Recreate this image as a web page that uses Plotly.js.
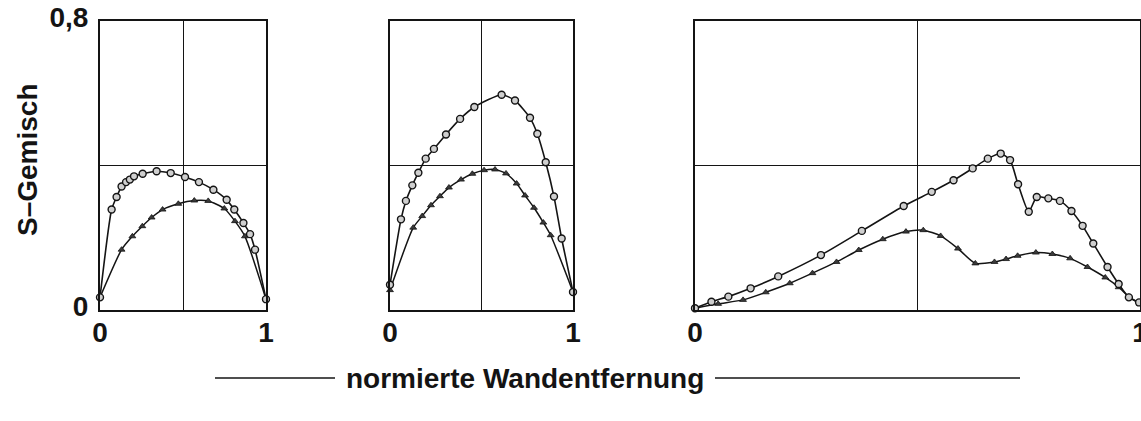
<!DOCTYPE html>
<html>
<head>
<meta charset="utf-8">
<script src="https://cdn.plot.ly/plotly-3.0.1.min.js"></script>
<style>
  html, body { margin: 0; padding: 0; background: #fff; }
  #chart { width: 1141px; height: 421px; }
</style>
</head>
<body>
<div id="chart"></div>
<script>
// Left panel: circles and triangles
const p1CircleX = [0, 0.07, 0.10, 0.13, 0.157, 0.18, 0.205, 0.257, 0.341, 0.426, 0.512, 0.596, 0.683, 0.763, 0.809, 0.864, 0.904, 0.934, 1.0];
const p1CircleY = [0.035, 0.278, 0.313, 0.342, 0.354, 0.361, 0.370, 0.377, 0.384, 0.379, 0.368, 0.354, 0.333, 0.305, 0.278, 0.241, 0.210, 0.167, 0.03];
const p1TriX = [0, 0.13, 0.195, 0.255, 0.311, 0.377, 0.472, 0.568, 0.652, 0.749, 0.813, 0.873, 1.0];
const p1TriY = [0.035, 0.167, 0.204, 0.232, 0.256, 0.278, 0.294, 0.303, 0.302, 0.281, 0.246, 0.204, 0.03];

// Middle panel
const p2CircleX = [0, 0.06, 0.087, 0.122, 0.155, 0.195, 0.240, 0.306, 0.383, 0.461, 0.610, 0.683, 0.765, 0.805, 0.851, 0.896, 0.938, 1.0];
const p2CircleY = [0.07, 0.251, 0.302, 0.345, 0.380, 0.419, 0.446, 0.486, 0.529, 0.562, 0.596, 0.580, 0.532, 0.488, 0.409, 0.314, 0.198, 0.05];
const p2TriX = [0, 0.127, 0.176, 0.224, 0.273, 0.322, 0.388, 0.450, 0.514, 0.574, 0.634, 0.692, 0.738, 0.787, 0.838, 0.878, 1.0];
const p2TriY = [0.055, 0.228, 0.260, 0.290, 0.315, 0.339, 0.361, 0.377, 0.387, 0.389, 0.378, 0.350, 0.317, 0.283, 0.242, 0.207, 0.05];

// Right panel
const p3CircleX = [0, 0.037, 0.075, 0.125, 0.187, 0.283, 0.375, 0.469, 0.532, 0.581, 0.624, 0.658, 0.687, 0.708, 0.726, 0.750, 0.768, 0.794, 0.820, 0.846, 0.871, 0.895, 0.927, 0.952, 0.975, 0.998];
const p3CircleY = [0.005, 0.023, 0.037, 0.060, 0.093, 0.152, 0.219, 0.288, 0.327, 0.359, 0.392, 0.419, 0.433, 0.415, 0.348, 0.272, 0.313, 0.309, 0.302, 0.274, 0.233, 0.184, 0.119, 0.072, 0.035, 0.021];
const p3TriX = [0, 0.052, 0.108, 0.159, 0.213, 0.264, 0.318, 0.368, 0.422, 0.474, 0.513, 0.552, 0.591, 0.630, 0.673, 0.699, 0.725, 0.766, 0.803, 0.843, 0.882, 0.922, 0.952, 0.975, 1.0];
const p3TriY = [0.005, 0.017, 0.028, 0.049, 0.074, 0.102, 0.133, 0.166, 0.196, 0.217, 0.221, 0.205, 0.170, 0.129, 0.133, 0.141, 0.150, 0.159, 0.155, 0.143, 0.119, 0.090, 0.063, 0.037, 0.017];

// Tick labels
const xTickVals = [0, 0.5, 1];
const xTickText = ['0', '', '1'];
const yTickVals = [0, 0.4, 0.8];
const yTickText = ['0', '', '0,8'];

const yTitle = 'S–Gemisch';
const xTitle = 'normierte Wandentfernung';

const W = 1141, H = 421;
const FONT = 'Liberation Sans, Arial, Helvetica, sans-serif';
const INK = '#141414';

function circleTrace(x, y, ax) {
  return {
    x: x, y: y, xaxis: 'x' + ax, yaxis: 'y' + ax,
    type: 'scatter', mode: 'lines+markers', cliponaxis: false,
    line: { color: INK, width: 1.6, shape: 'spline', smoothing: 0.6 },
    marker: { symbol: 'circle', size: 7, color: '#cfcfcf', line: { color: INK, width: 1.4 } },
    hoverinfo: 'skip'
  };
}
function triTrace(x, y, ax) {
  return {
    x: x, y: y, xaxis: 'x' + ax, yaxis: 'y' + ax,
    type: 'scatter', mode: 'lines+markers', cliponaxis: false,
    line: { color: INK, width: 1.5, shape: 'spline', smoothing: 0.6 },
    marker: { symbol: 'triangle-up', size: 6, color: '#3a3a3a', line: { color: INK, width: 0.8 } },
    hoverinfo: 'skip'
  };
}

const data = [
  triTrace(p1TriX, p1TriY, ''), circleTrace(p1CircleX, p1CircleY, ''),
  triTrace(p2TriX, p2TriY, '2'), circleTrace(p2CircleX, p2CircleY, '2'),
  triTrace(p3TriX, p3TriY, '3'), circleTrace(p3CircleX, p3CircleY, '3')
];

const px = v => v / W;
const py = v => 1 - v / H;

function xAxis(x0, x1, anchor) {
  return {
    domain: [px(x0), px(x1)], anchor: anchor, range: [0, 1],
    tickvals: xTickVals, ticktext: xTickText, ticks: '',
    showgrid: true, gridcolor: INK, gridwidth: 1, zeroline: false,
    showline: true, mirror: true, linecolor: INK, linewidth: 2,
    ticklabelstandoff: -4, ticklabeloverflow: 'allow',
    tickfont: { family: FONT, size: 28, color: INK, weight: 'bold' },
    fixedrange: true
  };
}
function yAxis(anchor, showLabels) {
  return {
    domain: [py(310), py(21)], anchor: anchor, range: [0, 0.8],
    tickvals: yTickVals, ticktext: yTickText, ticks: '',
    showticklabels: showLabels,
    showgrid: true, gridcolor: INK, gridwidth: 1, zeroline: false,
    showline: true, mirror: true, linecolor: INK, linewidth: 2,
    ticklabelstandoff: 4, ticklabelshift: -4,
    tickfont: { family: FONT, size: 28, color: INK, weight: 'bold' },
    fixedrange: true
  };
}

const titleCx = 525, titleCy = 378, titleHalf = 186;

const layout = {
  width: W, height: H,
  margin: { l: 0, r: 0, t: 0, b: 0 },
  paper_bgcolor: '#fff', plot_bgcolor: '#fff',
  showlegend: false,
  xaxis: xAxis(100, 266, 'y'),
  yaxis: yAxis('x', true),
  xaxis2: xAxis(390, 573, 'y2'),
  yaxis2: yAxis('x2', false),
  xaxis3: xAxis(695, 1140, 'y3'),
  yaxis3: yAxis('x3', false),
  annotations: [
    { text: yTitle, xref: 'paper', yref: 'paper', x: px(28), y: py(160),
      textangle: -90, showarrow: false, xanchor: 'center', yanchor: 'middle',
      font: { family: FONT, size: 28, color: INK, weight: 'bold' } },
    { text: xTitle, xref: 'paper', yref: 'paper', x: px(titleCx), y: py(titleCy),
      showarrow: false, xanchor: 'center', yanchor: 'middle',
      font: { family: FONT, size: 28, color: INK, weight: 'bold' } }
  ],
  shapes: [
    { type: 'line', xref: 'paper', yref: 'paper', x0: px(215), x1: px(titleCx - titleHalf - 4),
      y0: py(titleCy), y1: py(titleCy), line: { color: INK, width: 1.3 } },
    { type: 'line', xref: 'paper', yref: 'paper', x0: px(titleCx + titleHalf + 4), x1: px(1020),
      y0: py(titleCy), y1: py(titleCy), line: { color: INK, width: 1.3 } }
  ]
};

Plotly.newPlot('chart', data, layout, { displayModeBar: false, staticPlot: true });
</script>
</body>
</html>
